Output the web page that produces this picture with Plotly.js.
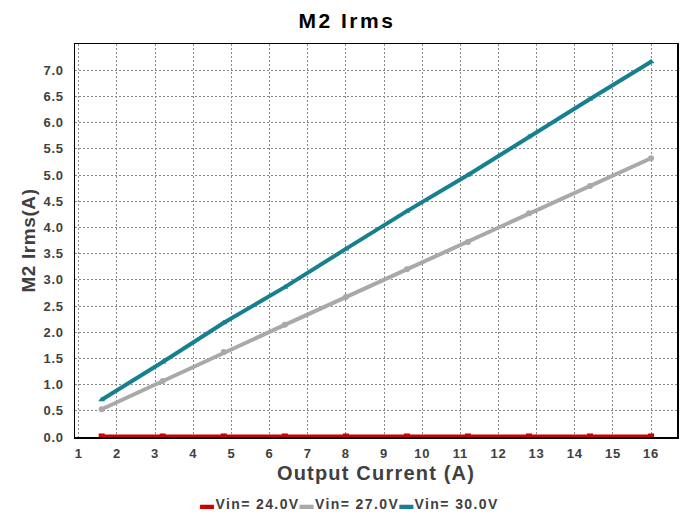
<!DOCTYPE html>
<html><head><meta charset="utf-8">
<script src="https://cdn.plot.ly/plotly-3.0.1.min.js"></script>
<style>
body{margin:0;background:#fff}#c{width:683px;height:515px}
.gtitle{letter-spacing:2.5px}
.xtitle{letter-spacing:1.2px}
.ytitle{letter-spacing:0.6px}
.xtick text,.ytick text{letter-spacing:0.8px}
.annotation-text{letter-spacing:1.4px}
</style>
</head><body><div id="c"></div>
<script>
const outputCurrent = [1.6, 3.2, 4.8, 6.4, 8.0, 9.6, 11.2, 12.8, 14.4, 16.0];
const vin24 = [0.01, 0.01, 0.01, 0.01, 0.01, 0.01, 0.01, 0.01, 0.01, 0.01];
const vin27 = [0.53, 1.07, 1.62, 2.14, 2.67, 3.20, 3.72, 4.27, 4.79, 5.32];
const vin30 = [0.71, 1.43, 2.18, 2.86, 3.59, 4.31, 5.00, 5.73, 6.45, 7.16];
const seriesNames = ['Vin= 24.0V', 'Vin= 27.0V', 'Vin= 30.0V'];
const seriesColors = ['#CC0000', '#A9A9A9', '#17808E'];
const xTicks = [1,2,3,4,5,6,7,8,9,10,11,12,13,14,15,16];
const yTicks = [0,0.5,1,1.5,2,2.5,3,3.5,4,4.5,5,5.5,6,6.5,7];

const font = 'Liberation Sans, Arial, sans-serif';
function tr(y, i, sym) {
  return {x: outputCurrent, y: y, name: seriesNames[i], type: 'scatter', mode: 'lines+markers',
    line: {color: seriesColors[i], width: 4}, marker: {color: seriesColors[i], size: 6, symbol: sym},
    showlegend: false};
}
const data = [tr(vin24, 0, 'square'), tr(vin27, 1, 'circle'), tr(vin30, 2, 'triangle-up')];

const legendText = seriesNames.map((n, i) =>
  '<span style="color:' + seriesColors[i] + '">▬</span><b>' + n + '</b>').join('');

const layout = {
  width: 683, height: 515,
  margin: {l: 75, r: 6, t: 44, b: 78, autoexpand: false},
  paper_bgcolor: '#fff', plot_bgcolor: '#fff',
  font: {family: font, color: '#404040'},
  title: {text: '<b>M2 Irms</b>', font: {size: 21, color: '#000'}, x: 0.508, xanchor: 'center', y: 0.959, yanchor: 'middle'},
  xaxis: {
    range: [0.9, 16.68], tickvals: xTicks, ticktext: xTicks.map(String),
    tickfont: {size: 13, color: '#404040', weight: 'bold'}, ticklabelstandoff: 4,
    showgrid: true, gridcolor: '#8a8a8a', griddash: '2px,2px', gridwidth: 1,
    showline: true, linecolor: '#000', linewidth: 1.5, mirror: true,
    zeroline: false, ticks: '',
    title: {text: '<b>Output Current (A)</b>', font: {size: 20, color: '#404040'}, standoff: 6}
  },
  yaxis: {
    range: [0, 7.5], tickvals: yTicks, ticktext: yTicks.map(v => v.toFixed(1)),
    tickfont: {size: 13, color: '#404040', weight: 'bold'}, ticklabelstandoff: 7,
    showgrid: true, gridcolor: '#8a8a8a', griddash: '2px,2px', gridwidth: 1,
    showline: true, linecolor: '#000', linewidth: 1.5, mirror: true,
    zeroline: false, ticks: '',
    title: {text: '<b>M2 Irms(A)</b>', font: {size: 19, color: '#404040'}, standoff: 3}
  },
  annotations: [{text: legendText, xref: 'paper', yref: 'paper', x: 0.205, y: -0.170,
    xanchor: 'left', yanchor: 'middle', showarrow: false,
    font: {family: font, size: 14, color: '#404040'}}],
  showlegend: false
};
Plotly.newPlot('c', data, layout, {displayModeBar: false, staticPlot: true});
</script></body></html>
